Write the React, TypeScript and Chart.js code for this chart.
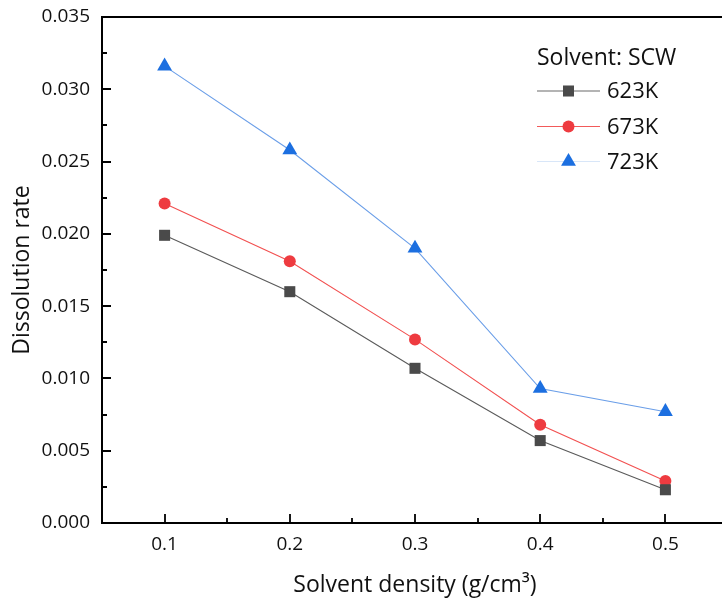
import React, { useEffect, useRef } from "react";
import { Chart, registerables } from "chart.js";

Chart.register(...registerables);

const densities = [0.1, 0.2, 0.3, 0.4, 0.5];
const seriesNames = ["623K", "673K", "723K"];
const rate623 = [0.0199, 0.016, 0.0107, 0.0057, 0.0023];
const rate673 = [0.0221, 0.0181, 0.0127, 0.0068, 0.0029];
const rate723 = [0.0316, 0.0258, 0.019, 0.0093, 0.0077];

const xTicks = [0.1, 0.2, 0.3, 0.4, 0.5];
const xTickLabels = ["0.1", "0.2", "0.3", "0.4", "0.5"];
const xMinorTicks = [0.15, 0.25, 0.35, 0.45];
const yTicks = [0, 0.005, 0.01, 0.015, 0.02, 0.025, 0.03, 0.035];
const yTickLabels = ["0.000", "0.005", "0.010", "0.015", "0.020", "0.025", "0.030", "0.035"];
const yMinorTicks = [0.0025, 0.0075, 0.0125, 0.0175, 0.0225, 0.0275, 0.0325];

const legendTitle = "Solvent: SCW";
const xTitle = "Solvent density (g/cm³)";
const yTitle = "Dissolution rate";

const FONT = '"Open Sans", sans-serif';
const markerColors = ["#4a4a4a", "#ee3b40", "#1c6fe0"];
const lineColors = ["#5a5a5a", "#f25050", "#6a9ee8"];
const legendLineColors = ["#6a6a6a", "#f25a5a", "#d8e6f8"];
const pointStyles = ["rect", "circle", "triangle"];
const pointRadii = [7.8, 6, 8.6];

function drawMarker(ctx: CanvasRenderingContext2D, style: string, x: number, y: number, r: number, color: string) {
  ctx.save();
  ctx.fillStyle = color;
  ctx.beginPath();
  if (style === "rect") {
    const s = Math.SQRT1_2 * r;
    ctx.rect(x - s, y - s, 2 * s, 2 * s);
  } else if (style === "circle") {
    ctx.arc(x, y, r, 0, Math.PI * 2);
  } else {
    let rad = 0;
    ctx.moveTo(x + Math.sin(rad) * r, y - Math.cos(rad) * r);
    rad += (2 * Math.PI) / 3;
    ctx.lineTo(x + Math.sin(rad) * r, y - Math.cos(rad) * r);
    rad += (2 * Math.PI) / 3;
    ctx.lineTo(x + Math.sin(rad) * r, y - Math.cos(rad) * r);
    ctx.closePath();
  }
  ctx.fill();
  ctx.restore();
}

export default function App() {
  const ref = useRef<HTMLCanvasElement>(null);

  useEffect(() => {
    const canvas = ref.current;
    if (!canvas) return;

    const framePlugin = {
      id: "frame",
      beforeDatasetsDraw(chart: any) {
        const { ctx, chartArea } = chart;
        const xs = chart.scales.x;
        const ys = chart.scales.y;
        const { left, right, top, bottom } = chartArea;
        ctx.save();
        ctx.strokeStyle = "#000";
        ctx.lineWidth = 2;
        ctx.strokeRect(left, top, right - left, bottom - top);
        ctx.lineWidth = 1.8;
        ctx.beginPath();
        xTicks.forEach((v) => {
          const px = Math.round(xs.getPixelForValue(v));
          ctx.moveTo(px, bottom);
          ctx.lineTo(px, bottom - 9);
        });
        xMinorTicks.forEach((v) => {
          const px = Math.round(xs.getPixelForValue(v));
          ctx.moveTo(px, bottom);
          ctx.lineTo(px, bottom - 5);
        });
        yTicks.forEach((v) => {
          const py = Math.round(ys.getPixelForValue(v));
          ctx.moveTo(left, py);
          ctx.lineTo(left + 9, py);
        });
        yMinorTicks.forEach((v) => {
          const py = Math.round(ys.getPixelForValue(v));
          ctx.moveTo(left, py);
          ctx.lineTo(left + 5, py);
        });
        ctx.stroke();
        ctx.restore();
      },
      afterDraw(chart: any) {
        const { ctx } = chart;
        ctx.save();
        ctx.fillStyle = "#111";
        ctx.textBaseline = "middle";
        ctx.textAlign = "left";
        ctx.font = `23px ${FONT}`;
        ctx.fillText(legendTitle, 537, 58);
        ctx.font = `22px ${FONT}`;
        const rows = [91, 126.5, 161.5];
        seriesNames.forEach((name, i) => {
          const y = rows[i];
          ctx.strokeStyle = legendLineColors[i];
          ctx.lineWidth = 1.2;
          ctx.beginPath();
          ctx.moveTo(537, y);
          ctx.lineTo(600, y);
          ctx.stroke();
          drawMarker(ctx, pointStyles[i], 568.5, y, pointRadii[i], markerColors[i]);
          ctx.fillStyle = "#111";
          ctx.fillText(name, 607, y + 1);
        });
        ctx.restore();
      },
    };

    const seriesData = [rate623, rate673, rate723];

    const chart = new Chart(canvas, {
      type: "line",
      data: {
        datasets: seriesNames.map((name, i) => ({
          label: name,
          data: densities.map((x, j) => ({ x, y: seriesData[i][j] })),
          borderColor: lineColors[i],
          backgroundColor: markerColors[i],
          borderWidth: 1.1,
          pointStyle: pointStyles[i] as any,
          pointRadius: pointRadii[i],
          pointBackgroundColor: markerColors[i],
          pointBorderColor: markerColors[i],
          pointBorderWidth: 0,
          tension: 0,
          fill: false,
        })),
      },
      options: {
        animation: false,
        responsive: false,
        devicePixelRatio: 1,
        layout: { padding: { top: 17, right: 32, bottom: 0, left: 0 } },
        plugins: {
          legend: { display: false },
          tooltip: { enabled: false },
        },
        scales: {
          x: {
            type: "linear",
            min: 0.05,
            max: 0.55,
            grid: { display: false, drawTicks: false },
            border: { display: false },
            afterBuildTicks: (axis: any) => {
              axis.ticks = xTicks.map((v) => ({ value: v }));
            },
            afterFit: (s: any) => {
              s.height = 84;
              s.paddingLeft = 0;
              s.paddingRight = 0;
            },
            ticks: {
              autoSkip: false,
              maxRotation: 0,
              padding: 10,
              color: "#111",
              font: { family: FONT, size: 19 },
              callback: (_v: any, idx: number) => xTickLabels[idx],
            },
            title: {
              display: true,
              text: xTitle,
              color: "#111",
              font: { family: FONT, size: 23 },
              padding: { top: 0, bottom: 8 },
            },
          },
          y: {
            type: "linear",
            min: 0,
            max: 0.035,
            grid: { display: false, drawTicks: false },
            border: { display: false },
            afterBuildTicks: (axis: any) => {
              axis.ticks = yTicks.map((v) => ({ value: v }));
            },
            afterFit: (s: any) => {
              s.width = 102;
              s.paddingTop = 0;
              s.paddingBottom = 0;
            },
            ticks: {
              autoSkip: false,
              padding: 12,
              color: "#111",
              font: { family: FONT, size: 19 },
              callback: (_v: any, idx: number) => yTickLabels[idx],
            },
            title: {
              display: true,
              text: yTitle,
              color: "#111",
              font: { family: FONT, size: 23 },
              padding: { top: 9, bottom: 0 },
            },
          },
        },
      },
      plugins: [framePlugin],
    });

    return () => chart.destroy();
  }, []);

  return (
    <div
      style={{
        position: "absolute",
        left: 0,
        top: 0,
        width: 722,
        height: 607,
        overflow: "hidden",
        background: "#fff",
      }}
    >
      <canvas ref={ref} width={760} height={607} style={{ display: "block", width: 760, height: 607 }} />
    </div>
  );
}
